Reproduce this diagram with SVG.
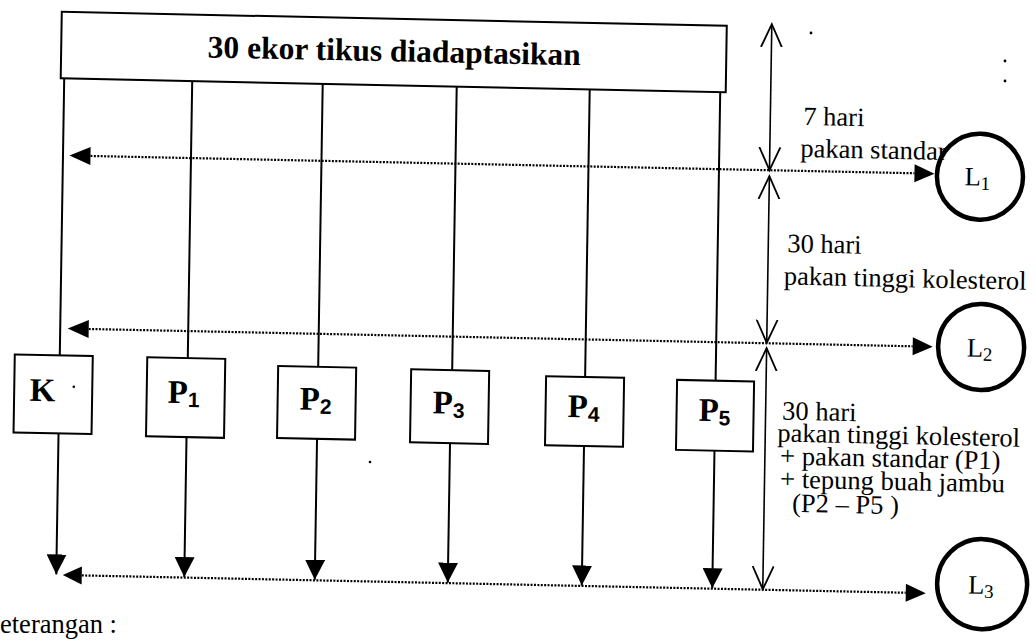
<svg xmlns="http://www.w3.org/2000/svg" width="1036" height="641" viewBox="0 0 1036 641">
<style>
.box{fill:#fff;stroke:#000;stroke-width:2}
.ln{stroke:#000;stroke-width:2;fill:none}
.dot{stroke:#000;stroke-width:2.2;fill:none;stroke-dasharray:2 1.4}
.dim{stroke:#000;stroke-width:1.6;fill:none}
.circ{fill:#fff;stroke:#000;stroke-width:4.5}
.tb{font-family:"Liberation Serif",serif;font-weight:bold;fill:#000}
.tr{font-family:"Liberation Serif",serif;fill:#000;font-size:26.5px}
.sub{font-family:"Liberation Sans",sans-serif;font-weight:bold;font-size:21px}
.speck{fill:#000}
</style>
<defs>
<marker id="tri" markerUnits="userSpaceOnUse" markerWidth="22" markerHeight="20" refX="20" refY="10" orient="auto" viewBox="0 0 22 20">
<path d="M0,0 L20,10 L0,20 Z" fill="#000"/>
</marker>
<marker id="v" markerUnits="userSpaceOnUse" markerWidth="26" markerHeight="24" refX="23" refY="12" orient="auto-start-reverse" viewBox="0 0 26 24">
<path d="M0,1.5 L23,12 L0,22.5" fill="none" stroke="#000" stroke-width="1.8"/>
</marker>
</defs>
<rect width="1036" height="641" fill="#fff"/>
<g transform="matrix(1 0.021 -0.016 1 5.12 -10.88)">
<g id="connectors">
<line class="ln" x1="60.5" y1="88" x2="60.5" y2="365"/>
<line class="ln" x1="188.5" y1="88" x2="188.5" y2="365"/>
<line class="ln" x1="319" y1="88" x2="319" y2="371"/>
<line class="ln" x1="453" y1="88" x2="453" y2="371.5"/>
<line class="ln" x1="586" y1="88" x2="586" y2="375.5"/>
<line class="ln" x1="716.5" y1="88" x2="716.5" y2="376.5"/>
<line class="ln" x1="60.5" y1="443" x2="60.5" y2="584" marker-end="url(#tri)"/>
<line class="ln" x1="188.5" y1="444" x2="188.5" y2="584" marker-end="url(#tri)"/>
<line class="ln" x1="319" y1="443" x2="319" y2="584" marker-end="url(#tri)"/>
<line class="ln" x1="452" y1="444.5" x2="452" y2="584" marker-end="url(#tri)"/>
<line class="ln" x1="586" y1="444.6" x2="586" y2="584" marker-end="url(#tri)"/>
<line class="ln" x1="716.5" y1="446.5" x2="716.5" y2="584" marker-end="url(#tri)"/>
<line class="dot" x1="88" y1="165" x2="912" y2="165"/>
<path d="M67,165 L88,156 L88,174 Z M932,165 L912,156 L912,174 Z"/>
<line class="dot" x1="89" y1="338" x2="913" y2="338"/>
<path d="M68,338 L89,329 L89,347 Z M933,338 L913,329 L913,347 Z"/>
<line class="dot" x1="86" y1="584.5" x2="910" y2="584.5"/>
<path d="M67,584.5 L86,575.5 L86,593.5 Z M930,584.5 L910,575.5 L910,593.5 Z"/>
<line class="dim" x1="767" y1="19" x2="767" y2="165" marker-start="url(#v)" marker-end="url(#v)"/>
<line class="dim" x1="767" y1="171" x2="767" y2="337.5" marker-start="url(#v)" marker-end="url(#v)"/>
<line class="dim" x1="767" y1="343" x2="767" y2="584" marker-start="url(#v)" marker-end="url(#v)"/>
</g>
<g id="top">
<rect class="box" x="57" y="21.5" width="665" height="66.5"/>
<text class="tb" x="390" y="64" font-size="31.5" text-anchor="middle">30 ekor tikus diadaptasikan</text>
</g>
<g id="K">
<rect class="box" x="15.5" y="365" width="78" height="78"/>
<text class="tb" x="31" y="411" font-size="33">K</text>
<circle class="speck" cx="75" cy="396" r="1.3"/>
</g>
<g id="P1">
<rect class="box" x="148" y="365" width="78" height="79"/>
<text class="tb" x="185" y="410" font-size="33" text-anchor="middle">P<tspan class="sub" dy="4">1</tspan></text>
</g>
<g id="P2">
<rect class="box" x="279" y="371" width="78" height="72"/>
<text class="tb" x="317" y="414" font-size="33" text-anchor="middle">P<tspan class="sub" dy="4">2</tspan></text>
</g>
<g id="P3">
<rect class="box" x="412" y="371.5" width="78" height="73"/>
<text class="tb" x="450" y="415" font-size="33" text-anchor="middle">P<tspan class="sub" dy="4">3</tspan></text>
</g>
<g id="P4">
<rect class="box" x="547" y="375.6" width="78" height="69"/>
<text class="tb" x="585" y="416" font-size="33" text-anchor="middle">P<tspan class="sub" dy="4">4</tspan></text>
</g>
<g id="P5">
<rect class="box" x="678" y="376.5" width="77" height="70"/>
<text class="tb" x="716" y="417" font-size="33" text-anchor="middle">P<tspan class="sub" dy="4">5</tspan></text>
</g>
<g id="L1">
<circle class="circ" cx="977.5" cy="167" r="43"/>
<text class="tr" x="975" y="176" font-size="29" text-anchor="middle">L<tspan font-size="19" dy="4">1</tspan></text>
</g>
<g id="L2">
<circle class="circ" cx="981.4" cy="337.3" r="43"/>
<text class="tr" x="980" y="347" font-size="29" text-anchor="middle">L<tspan font-size="19" dy="4">2</tspan></text>
</g>
<g id="L3">
<circle class="circ" cx="986.2" cy="574.3" r="45"/>
<text class="tr" x="985" y="584" font-size="29" text-anchor="middle">L<tspan font-size="19" dy="4">3</tspan></text>
</g>
<g id="labels">
<text class="tr" x="800" y="119">7 hari</text>
<text class="tr" x="797.5" y="151" font-size="25.8">pakan standar</text>
<text class="tr" x="786" y="246.5">30 hari</text>
<text class="tr" x="783" y="279">pakan tinggi kolesterol</text>
<text class="tr" x="783.6" y="414">30 hari</text>
<text class="tr" x="779" y="436">pakan tinggi kolesterol</text>
<text class="tr" x="782.3" y="459">+ pakan standar (P1)</text>
<text class="tr" x="782.7" y="482">+ tepung buah jambu</text>
<text class="tr" x="795" y="506">(P2 – P5 )</text>
</g>
</g>
<circle class="speck" cx="811" cy="33" r="1.4"/>
<circle class="speck" cx="1005" cy="61" r="1.4"/>
<circle class="speck" cx="1005" cy="81" r="1.4"/>
<circle class="speck" cx="370" cy="462" r="1.3"/>
<text class="tr" x="0" y="633" font-size="30">eterangan :</text>
</svg>
